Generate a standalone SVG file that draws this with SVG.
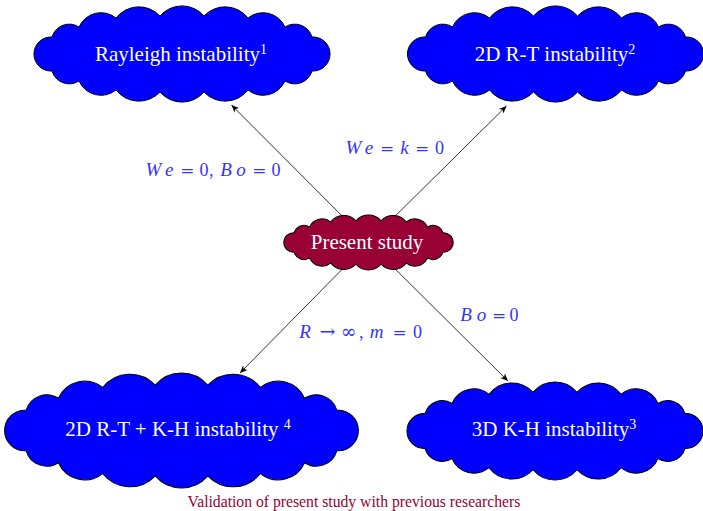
<svg xmlns="http://www.w3.org/2000/svg" xmlns:xlink="http://www.w3.org/1999/xlink" width="703" height="511" viewBox="0 0 703 511">
<style>
.cloud{stroke:#000;stroke-width:1;stroke-linejoin:round}
.blue{fill:#0000ff}
.pres{fill:#990033}
.nt{font-family:'Liberation Serif','Times New Roman',serif;font-size:21px;fill:#ffffff;text-anchor:middle}
.sup{font-size:14px}
.lbl{font-family:'Liberation Serif','Times New Roman',serif;font-size:18px;fill:#3333ff;text-anchor:middle}
.it{font-style:italic;font-size:19px}
.op{font-family:'DejaVu Serif',serif;font-size:17px}
.conn{stroke:#000;stroke-width:0.8;fill:none;marker-end:url(#arr)}
.cap{font-family:'Liberation Serif','Times New Roman',serif;font-size:15.7px;fill:#990033;text-anchor:middle}
</style>
<defs>
<marker id="arr" markerUnits="userSpaceOnUse" markerWidth="10" markerHeight="10" viewBox="-8 -5 10 10" refX="0" refY="0" orient="auto">
<path d="M0,0 L-7.5,-3.2 L-5.5,0 L-7.5,3.2 Z" fill="#000"/>
</marker>
<path id="cloudShape" d="M130,-17 A17.03,17.03 0 1 1 130,17 A18,18 0 0 1 103,27 A24,24 0 0 1 66,36 A29,29 0 0 1 22,38 A29,29 0 0 1 -22,38 A29,29 0 0 1 -66,36 A24,24 0 0 1 -103,27 A18,18 0 0 1 -130,17 A17.03,17.03 0 1 1 -130,-17 A18,18 0 0 1 -103,-27 A24,24 0 0 1 -66,-36 A29,29 0 0 1 -22,-38 A29,29 0 0 1 22,-38 A29,29 0 0 1 66,-36 A24,24 0 0 1 103,-27 A18,18 0 0 1 130,-17 Z"/>
</defs>

<g id="connectors">
<line class="conn" x1="368.5" y1="242.5" x2="231.5" y2="105"/>
<line class="conn" x1="368.5" y1="242.5" x2="506.5" y2="106"/>
<line class="conn" x1="368.5" y1="242.5" x2="240" y2="373"/>
<line class="conn" x1="368.5" y1="242.5" x2="508" y2="381"/>
</g>

<g id="rayleigh">
<use xlink:href="#cloudShape" href="#cloudShape" class="cloud blue" transform="translate(182,54)"/>
<text class="nt" x="181" y="61">Rayleigh instability<tspan class="sup" dy="-7.5">1</tspan></text>
</g>

<g id="rt2d">
<use xlink:href="#cloudShape" href="#cloudShape" class="cloud blue" transform="translate(555.5,54)"/>
<text class="nt" x="555" y="61">2D R-T instability<tspan class="sup" dy="-7.5">2</tspan></text>
</g>

<g id="present">
<use xlink:href="#cloudShape" href="#cloudShape" class="cloud pres" style="stroke-width:1.75" transform="translate(368.5,242.5) scale(0.572)"/>
<text class="nt" x="367" y="248.5">Present study</text>
</g>

<g id="rtkh2d">
<use xlink:href="#cloudShape" href="#cloudShape" class="cloud blue" style="stroke-width:0.84" transform="translate(181.5,430.5) scale(1.195)"/>
<text class="nt" x="178" y="436">2D R-T + K-H instability <tspan class="sup" dy="-7.5">4</tspan></text>
</g>

<g id="kh3d">
<use xlink:href="#cloudShape" href="#cloudShape" class="cloud blue" transform="translate(555,431) scale(1,1.02)"/>
<text class="nt" x="554" y="436">3D K-H instability<tspan class="sup" dy="-7.5">3</tspan></text>
</g>

<g id="labels">
<text class="lbl" y="175.5"><tspan class="it" x="153.3">W</tspan><tspan class="it" x="169.2">e</tspan><tspan class="op" x="187.3">=</tspan><tspan x="204">0</tspan><tspan x="211.3">,</tspan><tspan class="it" x="226">B</tspan><tspan class="it" x="241">o</tspan><tspan class="op" x="259.3">=</tspan><tspan x="276">0</tspan></text>
<text class="lbl" y="154"><tspan class="it" x="353.3">W</tspan><tspan class="it" x="369">e</tspan><tspan class="op" x="387">=</tspan><tspan class="it" x="404.5">k</tspan><tspan class="op" x="422">=</tspan><tspan x="439.5">0</tspan></text>
<text class="lbl" y="338"><tspan class="it" x="305">R</tspan><tspan class="op" x="327.5" style="font-size:19px">→</tspan><tspan class="op" x="348.7" style="font-size:19px">∞</tspan><tspan x="361.3">,</tspan><tspan class="it" x="376.7">m</tspan><tspan class="op" x="399.7">=</tspan><tspan x="417.5">0</tspan></text>
<text class="lbl" y="321"><tspan class="it" x="466">B</tspan><tspan class="it" x="481.5">o</tspan><tspan class="op" x="499">=</tspan><tspan x="514">0</tspan></text>
</g>

<text class="cap" x="354" y="507">Validation of present study with previous researchers</text>
</svg>
